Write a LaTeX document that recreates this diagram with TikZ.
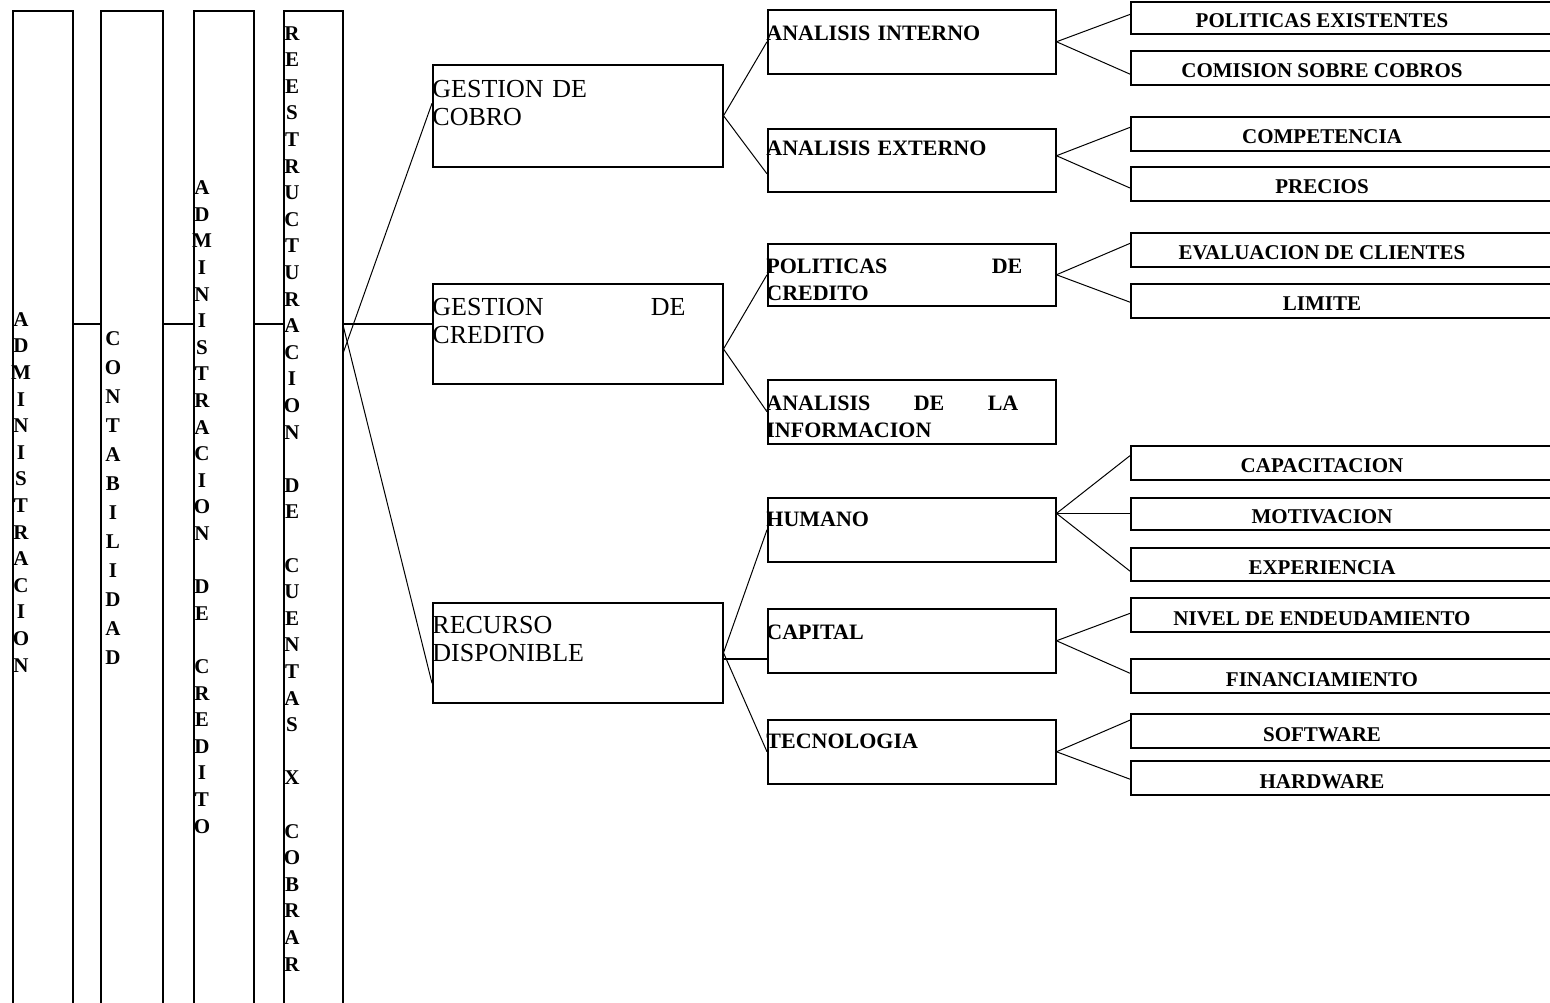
\documentclass[tikz,border=0pt]{standalone}
\usepackage{fontspec}
\setmainfont{Liberation Serif}
\usetikzlibrary{calc}
\tikzset{
  colbox/.style={draw, line width=0.75pt, inner sep=0pt, anchor=north west, minimum height=520pt},
  boxa/.style={draw, line width=0.75pt, inner sep=0pt, anchor=north west, minimum width=145pt, minimum height=50pt},
  boxb/.style={draw, line width=0.75pt, inner sep=0pt, anchor=north west, minimum width=144pt, minimum height=32pt},
  boxc/.style={draw, line width=0.75pt, inner sep=0pt, anchor=north west, minimum width=220pt, minimum height=17pt},
  vtext/.style={font=\bfseries\fontsize{10.5}{13.3}\selectfont, align=center, inner sep=0pt, anchor=base},
  txta/.style={font=\fontsize{13}{14.3}\selectfont, align=left, text width=126.5pt, inner sep=0pt, anchor=base west},
  txtb/.style={font=\bfseries\fontsize{11}{13.5}\selectfont, align=left, text width=128pt, inner sep=0pt, anchor=base west},
  txtc/.style={font=\bfseries\fontsize{10.5}{12}\selectfont, inner sep=0pt, anchor=base},
  link/.style={line width=0.5pt},
  hlink/.style={line width=0.7pt}
}
\begin{document}
\begin{tikzpicture}[x=0.5pt,y=-0.5pt]
\useasboundingbox (0,0) rectangle (1550,1002);
\clip (0,0) rectangle (1550,1002);
\fill[white] (0,0) rectangle (1550,1002);

% vertical columns
\node[colbox, minimum width=30pt] (col1) at (12,10) {};
\node[colbox, minimum width=31pt] (col2) at (100,10) {};
\node[colbox, minimum width=30pt] (col3) at (193,10) {};
\node[colbox, minimum width=29.5pt] (col4) at (283,10) {};

% (anchor=base of these multi-line nodes is the baseline of their last line)
\node[vtext] (t1) at (21,672) {A\\D\\M\\I\\N\\I\\S\\T\\R\\A\\C\\I\\O\\N};
\node[vtext, font=\bfseries\fontsize{10.5}{14.5}\selectfont] (t2) at (113,664) {C\\O\\N\\T\\A\\B\\I\\L\\I\\D\\A\\D};
\node[vtext] (t3) at (202,833) {A\\D\\M\\I\\N\\I\\S\\T\\R\\A\\C\\I\\O\\N\\\mbox{}\\D\\E\\\mbox{}\\C\\R\\E\\D\\I\\T\\O};
\node[vtext] (t4) at (292,971) {R\\E\\E\\S\\T\\R\\U\\C\\T\\U\\R\\A\\C\\I\\O\\N\\\mbox{}\\D\\E\\\mbox{}\\C\\U\\E\\N\\T\\A\\S\\\mbox{}\\X\\\mbox{}\\C\\O\\B\\R\\A\\R};

% level 2
\node[boxa, minimum height=51pt] (gc) at (432,64) {};
\node[boxa] (gcr) at (432,283) {};
\node[boxa] (rd) at (432,602) {};
\node[txta] (gct) at (432,97) {GESTION DE\\COBRO};
\node[txta] (gcrt) at (432,315) {GESTION\hfill DE\\CREDITO};
\node[txta] (rdt) at (432,633) {RECURSO\\DISPONIBLE};

% level 3
\node[boxb] (ai) at (767,9) {};
\node[boxb, minimum height=31.5pt] (ae) at (767,128) {};
\node[boxb, minimum height=31pt] (pc) at (767,243) {};
\node[boxb] (ain) at (767,379) {};
\node[boxb] (hu) at (767,497) {};
\node[boxb] (cap) at (767,608) {};
\node[boxb] (tec) at (767,719) {};
\node[txtb] (ait) at (766,40) {ANALISIS INTERNO};
\node[txtb] (aet) at (766,155) {ANALISIS EXTERNO};
\node[txtb] (pct) at (766,273) {POLITICAS\hfill DE\\CREDITO};
\node[txtb, text width=126pt] (aint) at (766,410) {ANALISIS\hfill DE\hfill LA\\INFORMACION};
\node[txtb] (hut) at (766,526) {HUMANO};
\node[txtb] (capt) at (766,639) {CAPITAL};
\node[txtb] (tect) at (766,748) {TECNOLOGIA};

% level 4
\node[boxc, minimum height=16pt] (pe) at (1130,1) {};
\node[boxc] (cs) at (1130,50) {};
\node[boxc] (comp) at (1130,116) {};
\node[boxc] (prec) at (1130,166) {};
\node[boxc] (ev) at (1130,232) {};
\node[boxc] (lim) at (1130,283) {};
\node[boxc] (capa) at (1130,445) {};
\node[boxc, minimum height=16pt] (mot) at (1130,497) {};
\node[boxc, minimum height=16.5pt] (expe) at (1130,547) {};
\node[boxc] (niv) at (1130,597) {};
\node[boxc] (fin) at (1130,658) {};
\node[boxc] (soft) at (1130,713) {};
\node[boxc] (hard) at (1130,760) {};
\node[txtc] (pet) at (1322,27) {POLITICAS EXISTENTES};
\node[txtc] (cst) at (1322,77) {COMISION SOBRE COBROS};
\node[txtc] (compt) at (1322,143) {COMPETENCIA};
\node[txtc] (prect) at (1322,193) {PRECIOS};
\node[txtc] (evt) at (1322,259) {EVALUACION DE CLIENTES};
\node[txtc] (limt) at (1322,310) {LIMITE};
\node[txtc] (capat) at (1322,472) {CAPACITACION};
\node[txtc] (mott) at (1322,523) {MOTIVACION};
\node[txtc] (expt) at (1322,574) {EXPERIENCIA};
\node[txtc] (nivt) at (1322,625) {NIVEL DE ENDEUDAMIENTO};
\node[txtc] (fint) at (1322,686) {FINANCIAMIENTO};
\node[txtc] (softt) at (1322,741) {SOFTWARE};
\node[txtc] (hardt) at (1322,788) {HARDWARE};

% connectors between columns
\coordinate (hub) at (0,324);
\coordinate (lowa) at (0,352);
\coordinate (lowb) at (0,327);
\draw[hlink] (col1.east |- hub) -- (col2.west |- hub);
\draw[hlink] (col2.east |- hub) -- (col3.west |- hub);
\draw[hlink] (col3.east |- hub) -- (col4.west |- hub);
\draw[hlink] (col4.east |- hub) -- (gcr.west |- hub);
\draw[link] (col4.east |- lowa) -- ($(gc.north west)!0.38!(gc.south west)$);
\draw[link] (col4.east |- lowb) -- ($(rd.north west)!0.8!(rd.south west)$);

% level 2 -> level 3
\draw[link] (gc.east) -- (ai.west);
\draw[link] (gc.east) -- ($(ae.north west)!0.71!(ae.south west)$);
\coordinate (gcrf) at ($(gcr.north east)!0.65!(gcr.south east)$);
\draw[link] (gcrf) -- (pc.west);
\draw[link] (gcrf) -- (ain.west);
\coordinate (capin) at ($(cap.north west)!0.78!(cap.south west)$);
\draw[link] (rd.east) -- (hu.west);
\draw[hlink] (rd.east |- capin) -- (capin);
\draw[link] (rd.east) -- (tec.west);

% level 3 -> level 4
\draw[link] (ai.east) -- ($(pe.north west)!0.4!(pe.south west)$);
\draw[link] (ai.east) -- ($(cs.north west)!0.68!(cs.south west)$);
\coordinate (aef) at ($(ae.north east)!0.43!(ae.south east)$);
\draw[link] (aef) -- ($(comp.north west)!0.32!(comp.south west)$);
\draw[link] (aef) -- ($(prec.north west)!0.62!(prec.south west)$);
\draw[link] (pc.east) -- ($(ev.north west)!0.32!(ev.south west)$);
\draw[link] (pc.east) -- ($(lim.north west)!0.54!(lim.south west)$);
\coordinate (huf) at ($(hu.north east)!0.25!(hu.south east)$);
\draw[link] (huf) -- ($(capa.north west)!0.3!(capa.south west)$);
\draw[hlink] (huf) -- (mot.west |- huf);
\draw[link] (huf) -- ($(expe.north west)!0.7!(expe.south west)$);
\draw[link] (cap.east) -- ($(niv.north west)!0.46!(niv.south west)$);
\draw[link] (cap.east) -- ($(fin.north west)!0.43!(fin.south west)$);
\draw[link] (tec.east) -- ($(soft.north west)!0.2!(soft.south west)$);
\draw[link] (tec.east) -- ($(hard.north west)!0.54!(hard.south west)$);
\end{tikzpicture}
\end{document}
